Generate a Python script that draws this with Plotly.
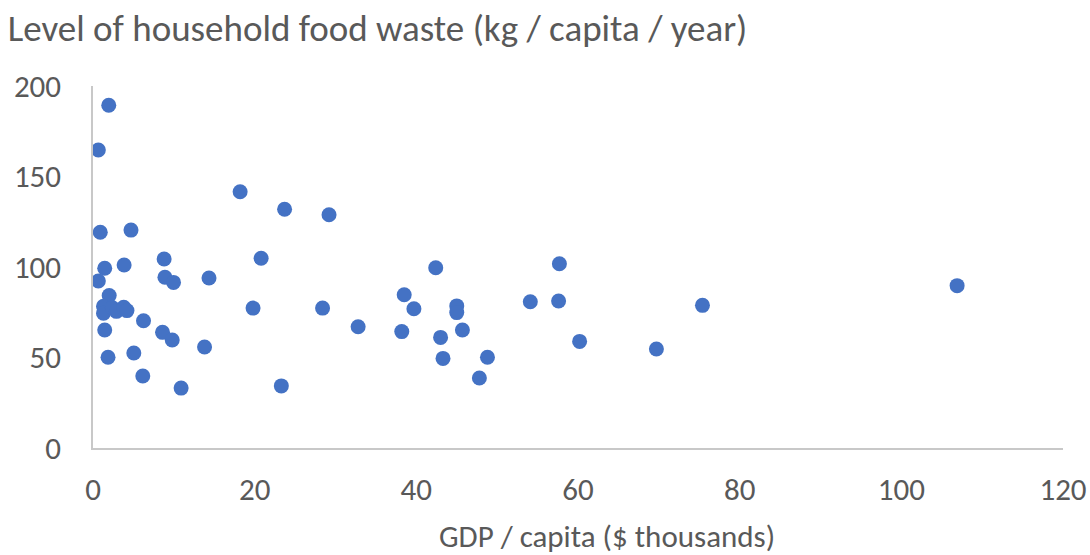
import plotly.graph_objects as go

# GDP per capita ($ thousands) and household food waste (kg / capita / year)
gdp = [1.95, 0.66, 18.2, 23.7, 29.2, 0.9, 4.7, 8.8, 20.8, 1.45,
       3.85, 42.4, 57.7, 0.66, 8.9, 9.96, 14.35, 106.9, 2.0, 38.5,
       54.1, 57.6, 1.3, 1.3, 2.4, 2.9, 3.8, 4.2, 19.8, 28.4,
       39.7, 45.0, 45.0, 75.4, 6.25, 32.8, 1.45, 8.6, 38.2, 45.7,
       43.0, 9.8, 60.2, 13.8, 69.7, 5.05, 1.86, 43.3, 48.8, 6.16,
       47.8, 10.9, 23.3]
waste = [189.4, 164.6, 141.6, 131.9, 128.9, 119.2, 120.4, 104.4, 104.8, 99.3,
         101.1, 99.6, 101.8, 92.3, 94.3, 91.5, 93.9, 89.7, 84.2, 84.7,
         80.8, 81.2, 78.3, 74.5, 77.5, 75.5, 77.7, 75.9, 77.3, 77.3,
         76.9, 78.5, 74.8, 78.8, 70.3, 67.0, 65.2, 63.9, 64.3, 65.2,
         61.1, 59.7, 58.9, 55.8, 54.7, 52.5, 50.1, 49.5, 50.1, 39.8,
         38.7, 33.1, 34.3]

x_ticks = [0, 20, 40, 60, 80, 100, 120]
y_ticks = [0, 50, 100, 150, 200]

FONT = "Carlito, Liberation Sans Narrow, Open Sans, sans-serif"
GREY = "#595959"
AXIS = "#c8c8c8"

fig = go.Figure(
    go.Scatter(
        x=gdp, y=waste, mode="markers",
        marker=dict(size=15, color="#4472C4", line=dict(width=0)),
        showlegend=False, hoverinfo="x+y",
    )
)

fig.update_layout(
    width=1090, height=555,
    margin=dict(l=93, r=27, t=86, b=107, autoexpand=False),
    paper_bgcolor="white", plot_bgcolor="white",
    font=dict(family=FONT, color=GREY, size=31),
    title=dict(
        text="Level of household food waste (kg / capita / year)",
        x=0.007, xanchor="left", xref="container",
        y=0.95, yanchor="middle", yref="container",
        font=dict(family=FONT, size=37, color=GREY),
    ),
    annotations=[dict(
        text="GDP / capita ($ thousands)",
        x=0.53, xref="paper", xanchor="center",
        y=-0.243, yref="paper", yanchor="middle",
        showarrow=False, font=dict(family=FONT, size=31, color=GREY),
    )],
)

fig.update_xaxes(
    range=[0, 120], tickvals=x_ticks, showgrid=False, zeroline=False,
    showline=True, linecolor=AXIS, linewidth=1.5, automargin=False,
    ticks="outside", ticklen=13, tickcolor="rgba(0,0,0,0)",
    tickfont=dict(family=FONT, size=31, color=GREY),
)
fig.update_yaxes(
    range=[0, 200], tickvals=y_ticks, showgrid=False, zeroline=False,
    showline=True, linecolor=AXIS, linewidth=1.5, automargin=False,
    ticks="outside", ticklen=24, tickcolor="rgba(0,0,0,0)",
    tickfont=dict(family=FONT, size=31, color=GREY),
)

fig.write_html("out.html")
